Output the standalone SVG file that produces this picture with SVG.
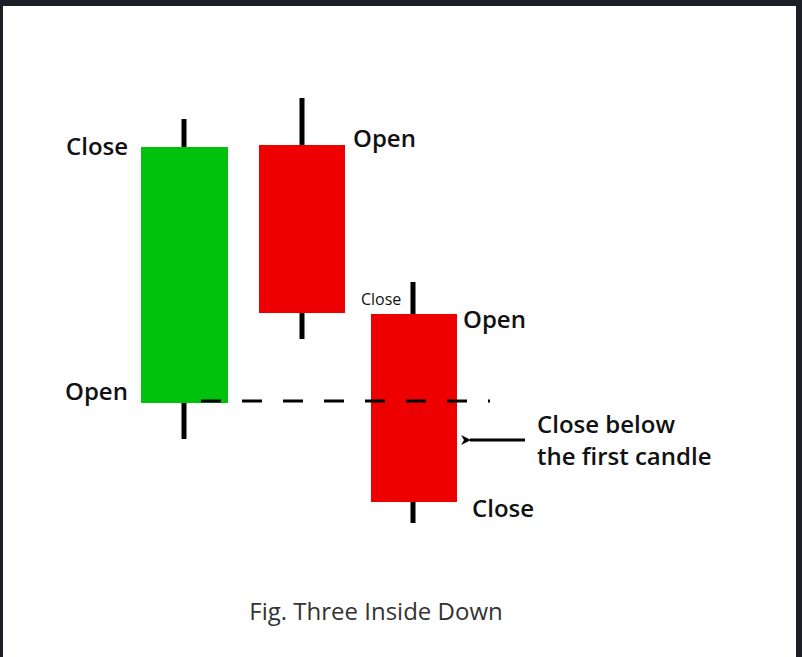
<svg xmlns="http://www.w3.org/2000/svg" width="802" height="657" viewBox="0 0 802 657">
<style>
.t{font-family:"Open Sans",sans-serif;font-weight:600;font-size:24px;fill:#111}
.w{stroke:#000;stroke-width:5}
</style>
<defs><marker id="ah" markerWidth="10" markerHeight="10" refX="1" refY="5" orient="auto" markerUnits="userSpaceOnUse" viewBox="0 0 10 10"><path d="M10,0 L0,5 L10,10 L7,5 Z" fill="#000"/></marker></defs>
<rect width="802" height="657" fill="#fff"/>
<rect width="802" height="6" fill="#1c1f26"/>
<rect width="3" height="657" fill="#1c1f26"/>
<rect x="796" width="6" height="657" fill="#1c1f26"/>
<g id="candle1"><line class="w" x1="184" y1="119" x2="184" y2="439"/><rect x="141" y="147" width="87" height="256" fill="#00c20d"/></g>
<g id="candle2"><line class="w" x1="302" y1="98" x2="302" y2="339"/><rect x="259" y="145" width="86" height="168" fill="#ee0000"/></g>
<g id="candle3"><line class="w" x1="413" y1="282" x2="413" y2="523"/><rect x="371" y="314" width="86" height="188" fill="#ee0000"/></g>
<g id="connectors">
<line x1="184" y1="401" x2="490" y2="401" stroke="#000" stroke-width="3" stroke-dasharray="20 21" stroke-dashoffset="-17"/>
<line x1="525" y1="440" x2="470" y2="440" stroke="#000" stroke-width="3" marker-end="url(#ah)"/>
</g>
<text class="t" x="66" y="155">Close</text>
<text class="t" x="353" y="147">Open</text>
<text class="t" x="65" y="400">Open</text>
<text class="t" x="361" y="305" style="font-size:16px;font-weight:500">Close</text>
<text class="t" x="463" y="328">Open</text>
<text class="t" x="537" y="433">Close below</text>
<text class="t" x="537" y="465">the first candle</text>
<text class="t" x="472" y="517">Close</text>
<text x="376" y="620" text-anchor="middle" style="font-family:'Open Sans',sans-serif;font-size:24px;fill:#333">Fig. Three Inside Down</text>
</svg>
